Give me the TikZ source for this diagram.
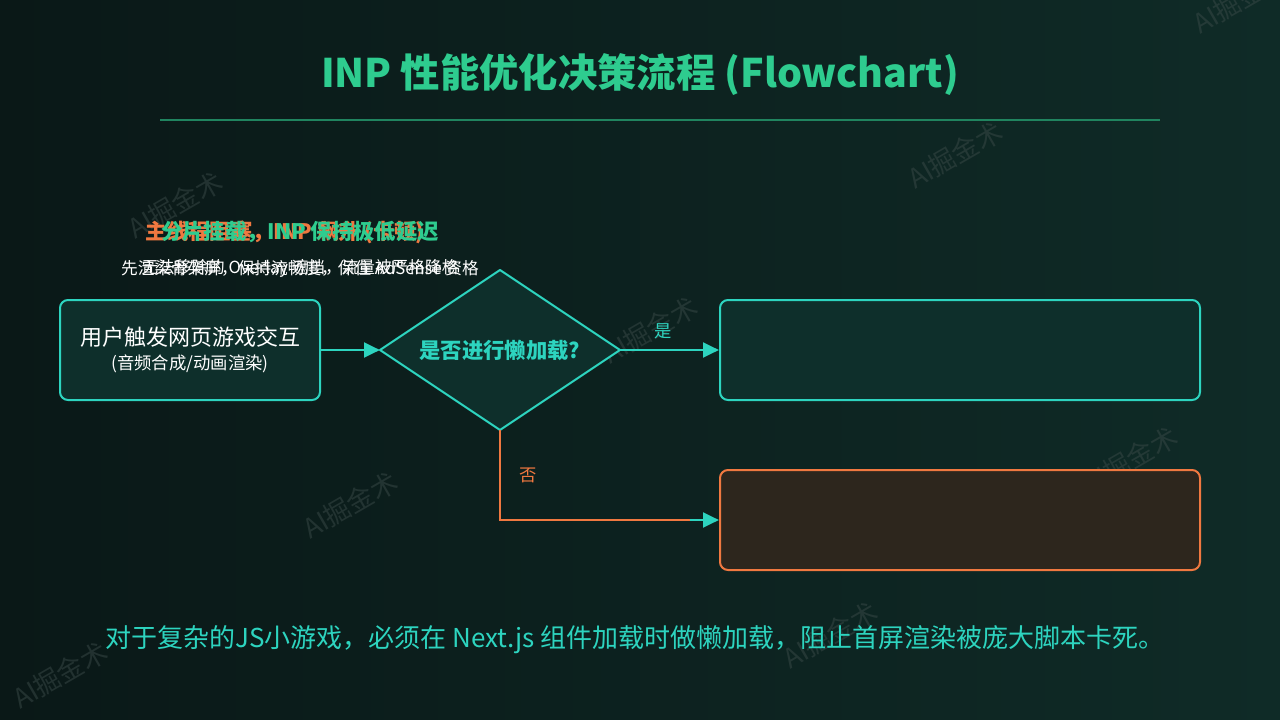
\documentclass[tikz,border=0pt]{standalone}
\usepackage{fontspec}
\setmainfont{Noto Sans CJK SC}
\usetikzlibrary{shapes.geometric,arrows.meta}
\definecolor{bgL}{HTML}{0A1817}
\definecolor{bgR}{HTML}{0F2B27}
\definecolor{grn}{HTML}{2ECC8F}
\definecolor{tel}{HTML}{2DD4BF}
\definecolor{org}{HTML}{F07840}
\definecolor{wm}{HTML}{3A4A48}
\begin{document}
\begin{tikzpicture}[x=0.75pt,y=-0.75pt,
  box/.style={draw=tel,line width=1.5pt,rounded corners=6pt,fill=tel!12!bgL},
  con/.style={line width=2.2pt,-{Triangle[length=12pt,width=11pt]}},
  wmk/.style={text=wm,font=\fontsize{20}{22}\selectfont,rotate=30,opacity=0.5}]
\shade[left color=bgL,right color=bgR] (0,0) rectangle (1280,720);
\useasboundingbox (0,0) rectangle (1280,720);
\foreach \x/\y in {175/205,650/330,955/155,350/505,1130/460,60/675,830/635,1240/0}
  \node[wmk] (w\x) at (\x,\y) {AI掘金术};
\node[text=grn,font=\bfseries\fontsize{29.5}{32}\selectfont] (title) at (640,75) {INP 性能优化决策流程 (Flowchart)};
\draw[grn!60!bgL,line width=1pt] (160,120) -- (1160,120);
\node[box,minimum width=195pt,minimum height=75pt,align=center,text=white] (start) at (190,350)
  {{\fontsize{16.5}{20}\selectfont 用户触发网页游戏交互}\\[5pt]{\fontsize{13}{16}\selectfont (音频合成/动画渲染)}};
\coordinate (dT) at (500,270); \coordinate (dB) at (500,430);
\coordinate (dL) at (380,350); \coordinate (dR) at (620,350);
\draw[tel,line width=1.5pt,fill=tel!12!bgL,line join=round] (dT) -- (dR) -- (dB) -- (dL) -- cycle;
\node[text=tel,font=\bfseries\fontsize{16}{19}\selectfont] (dec) at (500,350) {是否进行懒加载?};
\node[box,minimum width=360pt,minimum height=75pt] (yes) at (960,350) {};
\node[box,draw=org,fill=org!15!bgL,minimum width=360pt,minimum height=75pt] (no) at (960,520) {};
\coordinate (j) at ([xshift=-22pt]no.west);
\draw[con,tel] (start) -- (dL);
\draw[con,tel] (dR) -- node[above,pos=0.5,text=tel,font=\fontsize{13}{15}\selectfont,xshift=-5pt,yshift=4pt]{是} (yes);
\draw[org,line width=2.2pt] (dB) |- node[pos=0.25,right,text=org,font=\fontsize{13}{15}\selectfont,xshift=10pt]{否} (j);
\draw[con,tel] (j) -- (no.west);
\node[text=org,font=\bfseries\fontsize{16}{19}\selectfont] (nt) at (285,232) {主线程阻塞，INP 飙升 (卡顿)};
\node[text=grn,font=\bfseries\fontsize{16}{19}\selectfont] (yt) at (300,232) {分片挂载，INP 保持极低延迟};
\node[text=white,font=\fontsize{12.5}{15}\selectfont] (yd) at (300,268) {先渲染骨架屏，保持流畅度，保住 AdSense 资格};
\node[text=white,font=\fontsize{12.5}{15}\selectfont] (nd) at (300,268) {无法移除的 Overlay 遮挡，流量被严格降格};
\node[text=tel,font=\fontsize{19.5}{22}\selectfont] (foot) at (635,640) {对于复杂的JS小游戏，必须在 Next.js 组件加载时做懒加载，阻止首屏渲染被庞大脚本卡死。};
\end{tikzpicture}
\end{document}
